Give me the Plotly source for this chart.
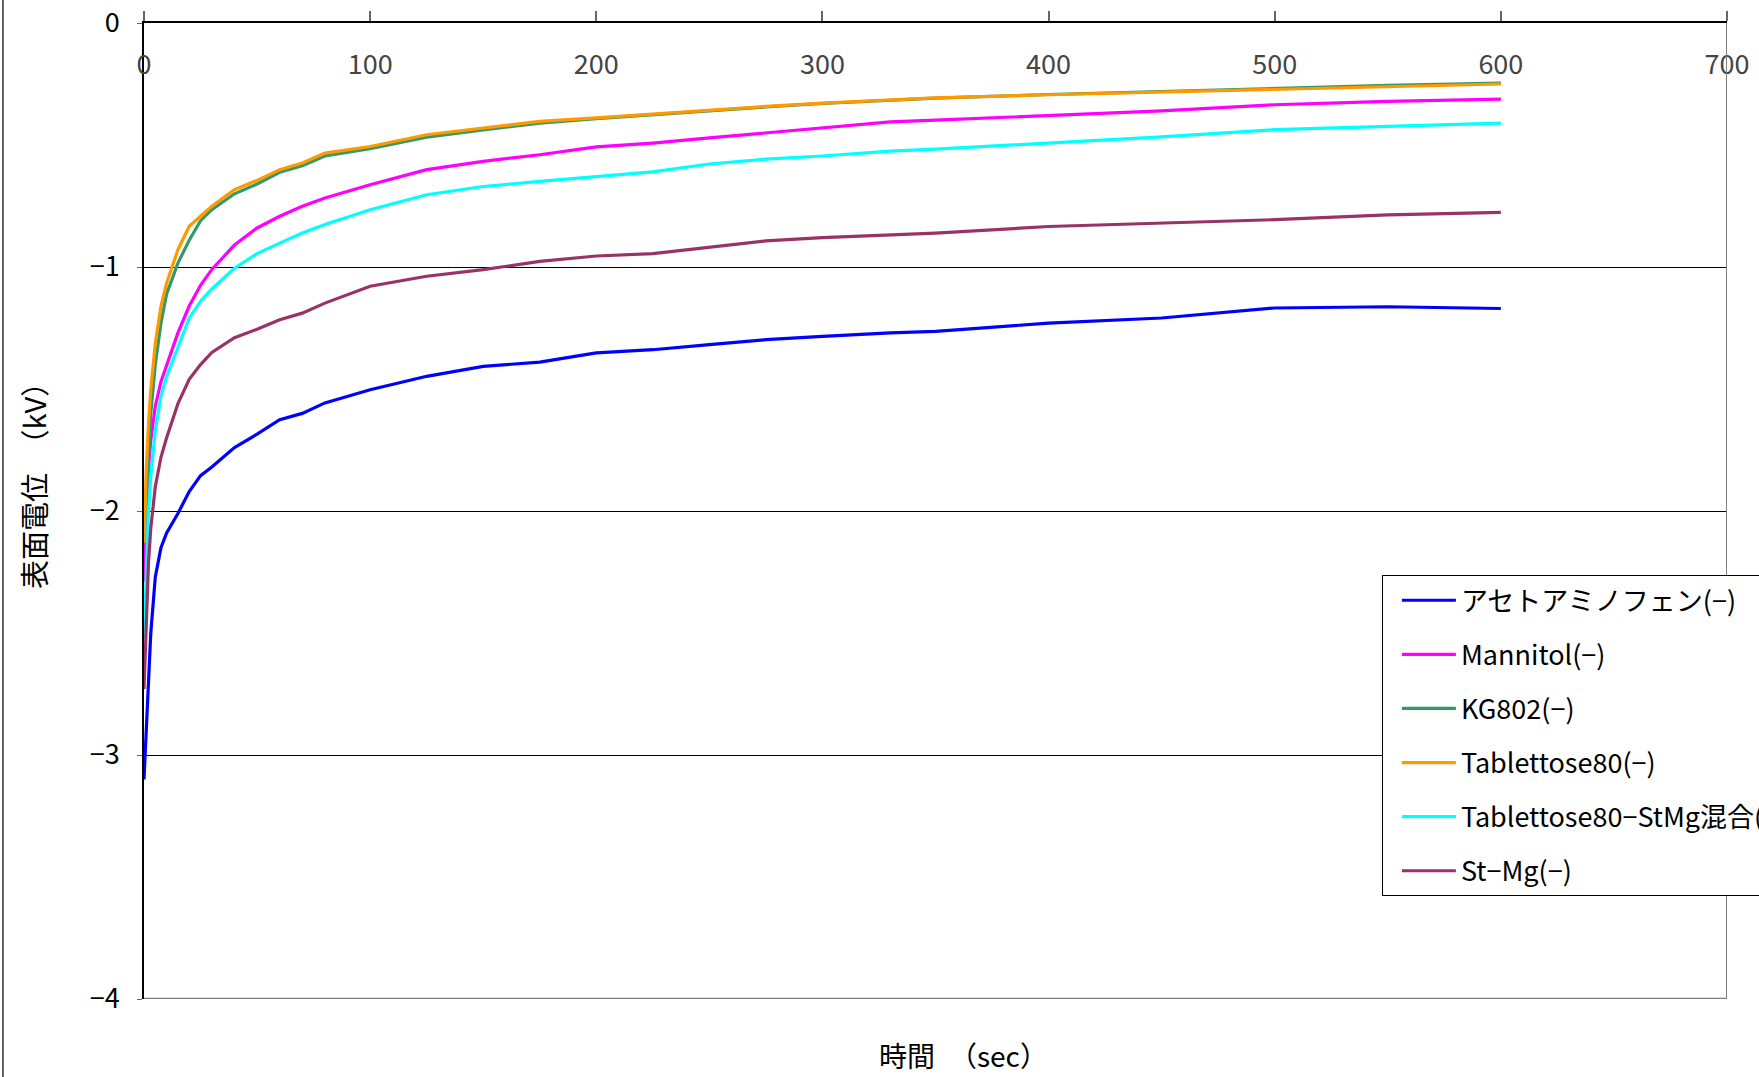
import plotly.graph_objects as go

# time (sec)
T = [0, 1, 2, 3, 5, 7.5, 10, 15, 20, 25, 30, 40, 50, 60, 70, 80, 100, 125, 150, 175,
     200, 225, 250, 275, 300, 330, 350, 400, 450, 500, 550, 600]

acetaminophen = [-3.10, -2.88, -2.72, -2.50, -2.27, -2.15, -2.09, -2.01, -1.92, -1.855, -1.82,
                 -1.74, -1.685, -1.626, -1.60, -1.557, -1.503, -1.448, -1.407, -1.390, -1.352,
                 -1.339, -1.318, -1.298, -1.284, -1.270, -1.264, -1.230, -1.209, -1.168,
                 -1.163, -1.170]
mannitol = [-2.29, -2.02, -1.82, -1.71, -1.57, -1.47, -1.40, -1.27, -1.16, -1.075, -1.01,
            -0.91, -0.84, -0.792, -0.751, -0.717, -0.663, -0.601, -0.567, -0.540, -0.508,
            -0.492, -0.471, -0.451, -0.430, -0.405, -0.398, -0.380, -0.360, -0.335, -0.321,
            -0.312]
kg802 = [-2.13, -1.95, -1.75, -1.60, -1.40, -1.23, -1.11, -0.984, -0.89, -0.81, -0.765,
         -0.70, -0.66, -0.612, -0.585, -0.545, -0.515, -0.468, -0.438, -0.410, -0.392,
         -0.376, -0.358, -0.344, -0.330, -0.316, -0.308, -0.293, -0.280, -0.268, -0.256,
         -0.246]
tablettose80 = [-2.13, -1.83, -1.64, -1.503, -1.312, -1.161, -1.066, -0.929, -0.833, -0.792,
                -0.751, -0.683, -0.645, -0.601, -0.574, -0.533, -0.506, -0.458, -0.430,
                -0.403, -0.389, -0.373, -0.355, -0.342, -0.328, -0.314, -0.307, -0.294,
                -0.283, -0.271, -0.260, -0.250]
tablettose_stmg = [-2.52, -2.24, -2.00, -1.86, -1.67, -1.53, -1.45, -1.33, -1.21, -1.14,
                   -1.09, -1.005, -0.945, -0.902, -0.861, -0.826, -0.765, -0.704, -0.670,
                   -0.649, -0.630, -0.610, -0.578, -0.558, -0.545, -0.525, -0.517, -0.492,
                   -0.467, -0.437, -0.424, -0.410]
stmg = [-2.73, -2.43, -2.21, -2.07, -1.90, -1.78, -1.70, -1.56, -1.46, -1.40, -1.35, -1.29,
        -1.255, -1.216, -1.189, -1.148, -1.079, -1.038, -1.011, -0.977, -0.955, -0.945,
        -0.918, -0.893, -0.880, -0.870, -0.861, -0.834, -0.820, -0.806, -0.786, -0.776]

names = ["アセトアミノフェン(−)", "Mannitol(−)", "KG802(−)", "Tablettose80(−)",
         "Tablettose80−StMg混合(−)", "St−Mg(−)"]
series = [acetaminophen, mannitol, kg802, tablettose80, tablettose_stmg, stmg]
colors = ["#0000FF", "#FF00FF", "#339966", "#FF9900", "#00FFFF", "#993366"]

x_ticks = [0, 100, 200, 300, 400, 500, 600, 700]
y_ticks = [0, -1, -2, -3, -4]

FONT = "Noto Sans CJK JP, Liberation Sans, sans-serif"

fig = go.Figure()
for i, (nm, ys, c) in enumerate(zip(names, series, colors)):
    fig.add_trace(go.Scatter(x=T, y=ys, name=nm, mode="lines",
                             line=dict(color=c, width=3.2),
                             legendgroup=f"g{i}"))

fig.update_layout(
    width=1759, height=1077,
    margin=dict(l=144, r=32, t=23, b=78, autoexpand=False),
    paper_bgcolor="white", plot_bgcolor="white",
    font=dict(family=FONT, size=27, color="black"),
    showlegend=True,
    legend=dict(x=0.782, y=0.4342, xanchor="left", yanchor="top",
                bgcolor="white", bordercolor="black", borderwidth=1,
                font=dict(size=27), tracegroupgap=16, itemwidth=54,
                indentation=14, traceorder="grouped"),
    xaxis=dict(range=[0, 700], tickvals=x_ticks, side="top",
               showline=True, linecolor="black", linewidth=1.5,
               ticks="outside", ticklen=10, tickcolor="#666", tickwidth=1.5,
               ticklabelposition="inside", ticklabelstandoff=35,
               ticklabeloverflow="allow",
               showgrid=False, zeroline=False,
               tickfont=dict(size=27)),
    yaxis=dict(range=[-4, 0], tickvals=y_ticks,
               showline=True, linecolor="black", linewidth=1.5,
               ticks="outside", ticklen=5, tickcolor="#666",
               ticklabelstandoff=12,
               showgrid=True, gridcolor="black", gridwidth=1,
               zeroline=False, tickfont=dict(size=27)),
)

# plot-area right and bottom borders (grey)
fig.add_shape(type="line", xref="x", yref="y", x0=700, x1=700, y0=0, y1=-4,
              line=dict(color="#808080", width=2))
fig.add_shape(type="line", xref="x", yref="y", x0=0, x1=700, y0=-4, y1=-4,
              line=dict(color="#808080", width=2.5))
# outer chart border on the left
fig.add_shape(type="line", xref="paper", yref="paper", x0=-0.0891, x1=-0.0891,
              y0=-0.1, y1=1.03, line=dict(color="#333", width=1.5))

fig.add_annotation(text="時間　（sec）", xref="paper", yref="paper",
                   x=0.518, y=-0.0574, xanchor="center", yanchor="middle",
                   showarrow=False, font=dict(size=28))
fig.add_annotation(text="表面電位　（kV）", xref="paper", yref="paper",
                   x=-0.07, y=0.533, xanchor="center", yanchor="middle",
                   textangle=-90, showarrow=False, font=dict(size=29))

fig.write_html(
    "out.html",
    config={"displayModeBar": False},
    post_script="document.body.style.margin='0';document.body.style.overflow='hidden';",
)
